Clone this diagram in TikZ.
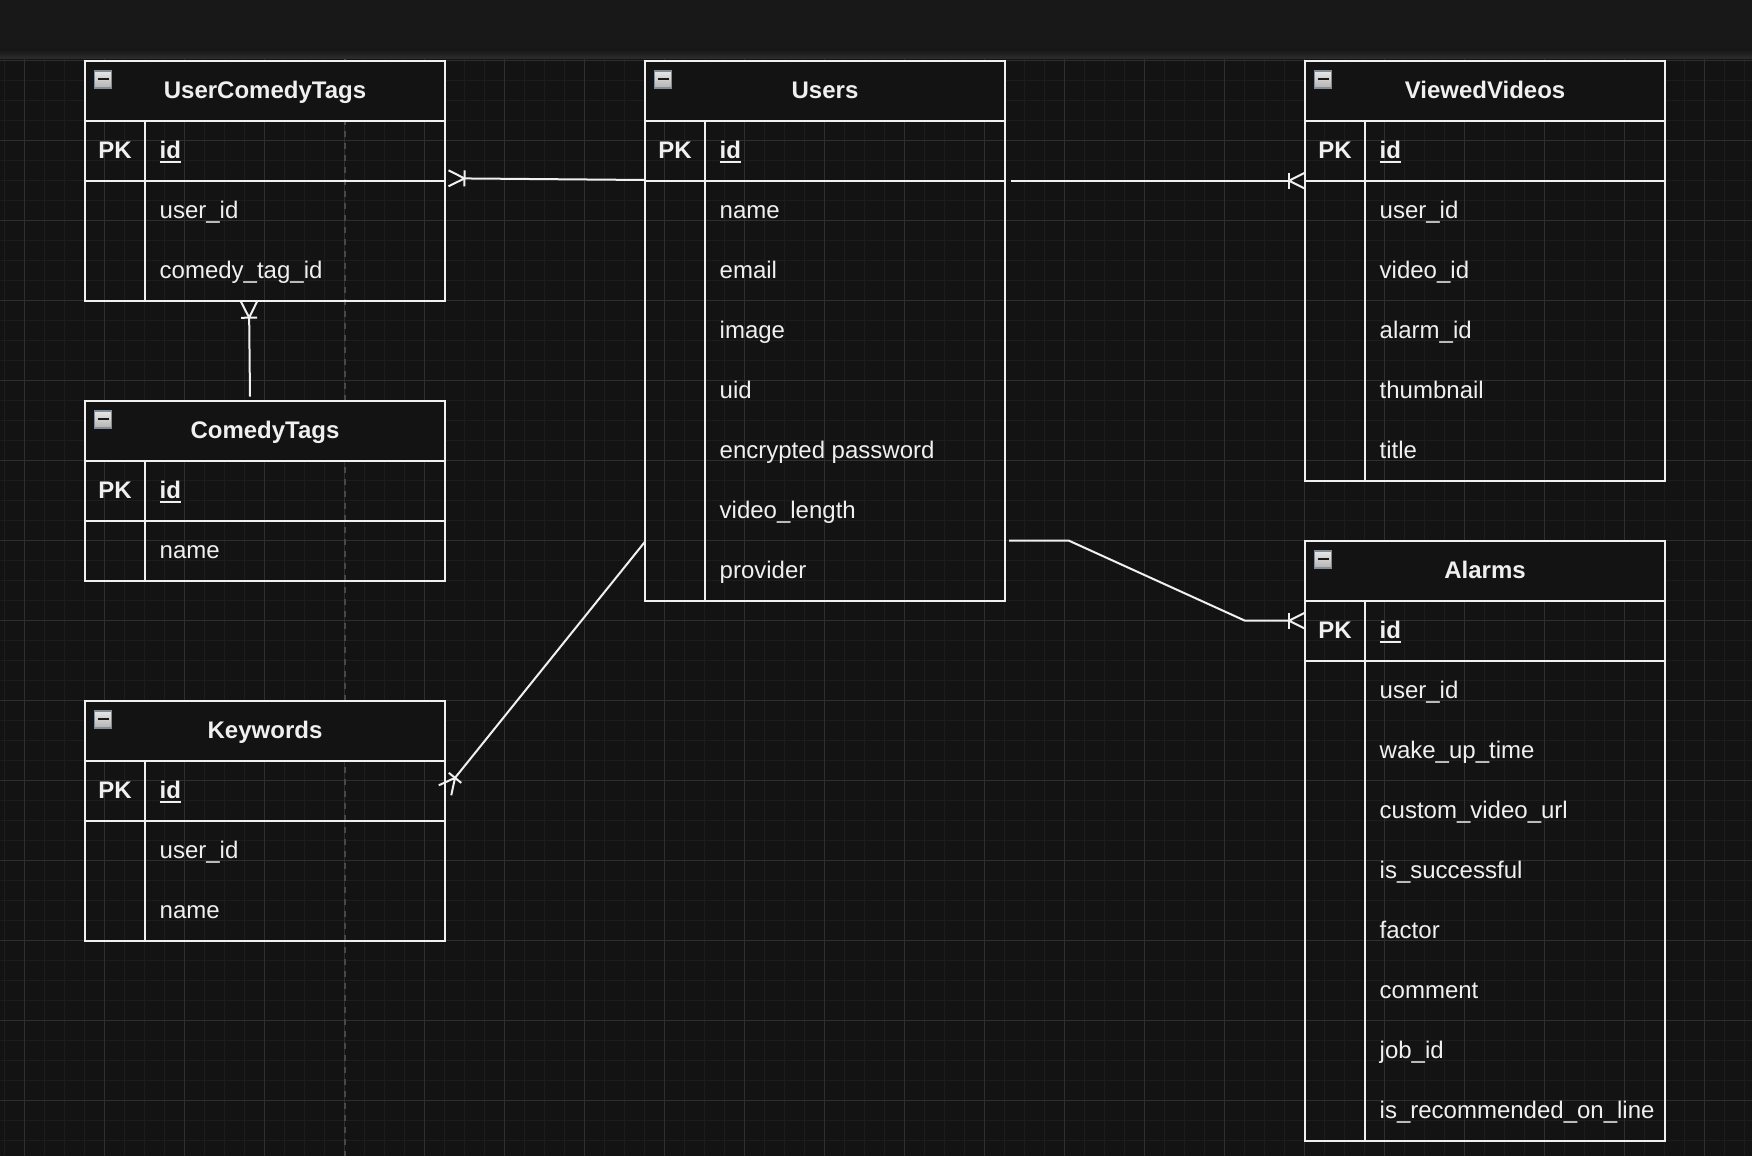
\documentclass[tikz,border=0pt]{standalone}
\usepackage{fontspec}
\setmainfont{Liberation Sans}
\usetikzlibrary{calc}
\definecolor{canvas}{HTML}{131313}
\definecolor{topbar}{HTML}{181818}
\definecolor{topedge}{HTML}{2E2E2E}
\definecolor{gridminor}{HTML}{1D1D1D}
\definecolor{gridmajor}{HTML}{2F2F2F}
\definecolor{fg}{HTML}{F0F0F0}
\definecolor{pagebrk}{HTML}{484848}
\definecolor{iconborder}{HTML}{838C99}
\definecolor{icontop}{HTML}{E8E8E8}
\definecolor{iconbot}{HTML}{B4B4B4}
\definecolor{iconminus}{HTML}{1A1A1A}

\tikzset{
  ertableframe/.style={draw=fg, line width=2.2pt, inner sep=0pt, outer sep=0pt, rectangle, anchor=north west, minimum width=360pt},
  rowline/.style={draw=fg, line width=2.2pt},
  ttl/.style={text=fg, font=\fontsize{24}{28}\selectfont\bfseries, inner sep=0pt, anchor=base},
  fld/.style={text=fg, font=\fontsize{24}{28}\selectfont, inner sep=0pt, anchor=base west},
  conn/.style={draw=fg, line width=2pt},
  iconbox/.style={draw=iconborder, line width=1.6pt, top color=icontop, bottom color=iconbot},
  iconbar/.style={fill=iconminus},
  minorline/.style={draw=gridminor, line width=1pt},
  majorline/.style={draw=gridmajor, line width=1.2pt},
}

\newcommand\ulid[1]{\setbox0\hbox{#1}\rlap{\rule[-4pt]{\wd0}{2pt}}\box0}

\newcommand\erTable[6]{%
  \fill[canvas] (#2,#3) rectangle ++(360,60);
  \node[ertableframe, minimum height={120+60*#5}] (#1) at (#2,#3) {};
  \draw[rowline] ($(#1.north west)+(0,60)$) -- ++(360,0);
  \draw[rowline] ($(#1.north west)+(0,120)$) -- ++(360,0);
  \draw[rowline] ($(#1.north west)+(60,60)$) -- ($(#1.south west)+(60,0)$);
  \draw[iconbox] ($(#1.north west)+(9.5,10)$) rectangle ++(17,17);
  \fill[iconbar] ($(#1.north west)+(12.5,17.3)$) rectangle ++(11,2.4);
  \node[ttl] (#1-t) at ($(#1.north west)+(180,38)$) {#4};
  \node[ttl] (#1-pk) at ($(#1.north west)+(30,98)$) {PK};
  \node[fld, font=\fontsize{24}{28}\selectfont\bfseries] (#1-id) at ($(#1.north west)+(74.5,98)$) {\ulid{id}};
  \foreach \f [count=\i] in {#6} {\node[fld] (#1-f\i) at ($(#1.north west)+(74.5,98+60*\i)$) {\f};}
}

\newcommand\erCrow[3]{%
  \coordinate (#3) at ($(#2)!16pt!(#1)$);
  \draw[conn] ($(#3)!8pt!90:(#2)$) -- ($(#3)!8pt!-90:(#2)$);
  \draw[conn] ($(#2)!8pt!90:(#1)$) -- (#3) -- ($(#2)!8pt!-90:(#1)$);
}

\begin{document}
\begin{tikzpicture}[x=1pt, y=-1pt]
\useasboundingbox (0,0) rectangle (1752,1156);
% background
\fill[canvas] (0,0) rectangle (1752,1156);
% grid
\foreach \x in {4.5,24.5,...,1745} {\draw[minorline] (\x,59) -- (\x,1156);}
\foreach \y in {60.7,80.7,...,1156} {\draw[minorline] (0,\y) -- (1752,\y);}
\foreach \x in {24.5,104.5,...,1745} {\draw[majorline] (\x,59) -- (\x,1156);}
\foreach \y in {60.7,140.7,...,1156} {\draw[majorline] (0,\y) -- (1752,\y);}
% page break
\draw[pagebrk, line width=1.5pt, dash pattern=on 6pt off 6pt] (345,59) -- (345,1156);
% top bar
\fill[topbar] (0,0) rectangle (1752,50);
\shade[top color=topbar, bottom color=topedge] (0,50) rectangle (1752,59);

% tables
\erTable{uct}{85}{60.7}{UserComedyTags}{2}{user\_id,comedy\_tag\_id}
\erTable{users}{645}{60.7}{Users}{7}{name,email,image,uid,encrypted password,video\_length,provider}
\erTable{vv}{1305}{60.7}{ViewedVideos}{5}{user\_id,video\_id,alarm\_id,thumbnail,title}
\erTable{ct}{85}{400.7}{ComedyTags}{1}{name}
\erTable{kw}{85}{700.7}{Keywords}{2}{user\_id,name}
\erTable{alarms}{1305}{540.7}{Alarms}{8}{user\_id,wake\_up\_time,custom\_video\_url,is\_successful,factor,comment,job\_id,is\_recommended\_on\_line}

% connectors
\coordinate (c1s) at ($(users.north west)+(0,119.3)$);
\coordinate (c1e) at ($(uct.north east)+(3.5,117.6)$);
\erCrow{c1s}{c1e}{c1b}
\draw[conn] (c1s) -- (c1b);

\coordinate (c2s) at ($(users.north east)+(6,120)$);
\coordinate (c2e) at ($(vv.north west)+(0,120)$);
\erCrow{c2s}{c2e}{c2b}
\draw[conn] (c2s) -- (c2b);

\coordinate (c3s) at ($(users.north east)+(4,480)$);
\coordinate (c3a) at ($(c3s)+(60,0)$);
\coordinate (c3w) at ($(alarms.north west)+(-60,80)$);
\coordinate (c3e) at ($(alarms.north west)+(0,80)$);
\erCrow{c3w}{c3e}{c3b}
\draw[conn] (c3s) -- (c3a) -- (c3w) -- (c3b);

\coordinate (c4s) at ($(users.north west)+(0,481)$);
\coordinate (c4e) at ($(kw.north east)+(0,89.6)$);
\erCrow{c4s}{c4e}{c4b}
\draw[conn] (c4s) -- (c4b);

\coordinate (c5s) at ($(ct.north west)+(165,-4)$);
\coordinate (c5e) at ($(uct.south west)+(164,1)$);
\erCrow{c5s}{c5e}{c5b}
\draw[conn] (c5s) -- (c5b);
\end{tikzpicture}
\end{document}
